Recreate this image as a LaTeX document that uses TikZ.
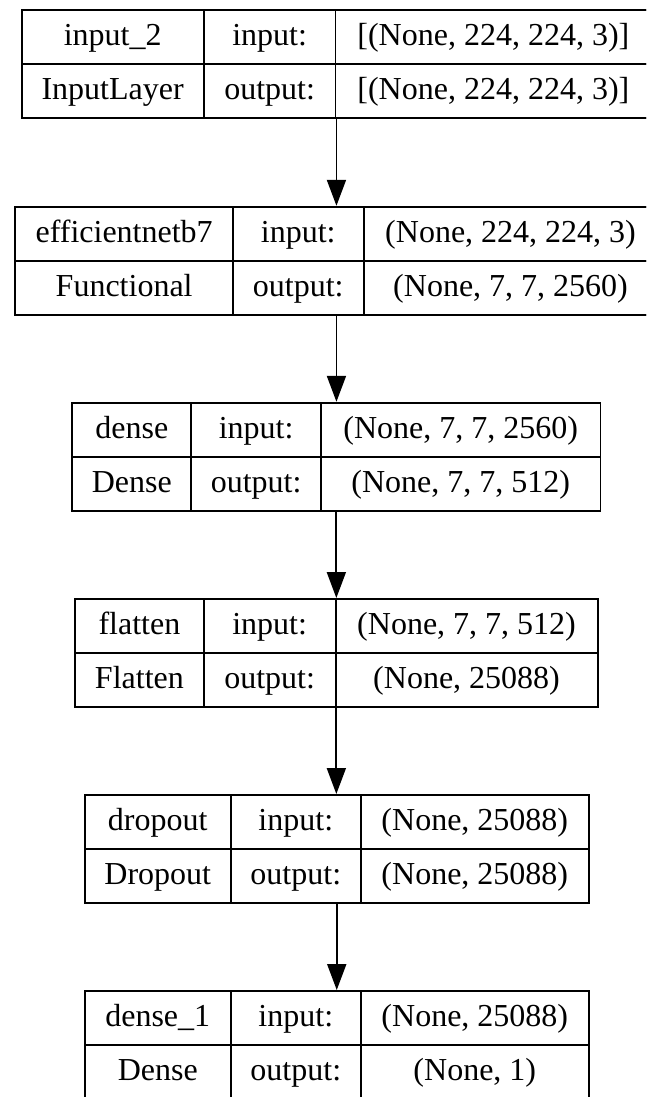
\documentclass[tikz,border=0pt]{standalone}
\usepackage{fontspec}
\setmainfont{Liberation Serif}
\usetikzlibrary{arrows.meta}
\newcommand{\cellfont}{\fontsize{32}{38}\selectfont}
\tikzset{
  cell/.style={draw, line width=1.9pt, inner sep=0pt, minimum height=54pt,
               text height=21.5pt, text depth=4pt,
               anchor=north west, font=\cellfont},
  layer/.style={draw, line width=1.9pt, inner sep=0pt, minimum height=108pt,
                anchor=north west},
  flow/.style={line width=1.9pt, -{Triangle[length=26pt,width=19pt]}}
}
\begin{document}
\begin{tikzpicture}[x=1pt,y=-1pt]
\clip (0,0) rectangle (646,1097);
\fill[white] (0,0) rectangle (646,1097);

% input_2 : InputLayer
\node[layer, minimum width=629.8pt] (L1) at (20.6,9.3) {};
\node[cell, minimum width=182.2pt] (L1n) at (20.6,9.3) {input\_2};
\node[cell, minimum width=182.2pt] (L1t) at (20.6,63.3) {InputLayer};
\node[cell, minimum width=131.7pt] (L1i) at (202.8,9.3) {input:};
\node[cell, minimum width=131.7pt] (L1o) at (202.8,63.3) {output:};
\node[cell, minimum width=315.9pt] (L1a) at (334.5,9.3) {[(None, 224, 224, 3)]};
\node[cell, minimum width=315.9pt] (L1b) at (334.5,63.3) {[(None, 224, 224, 3)]};

% efficientnetb7 : Functional
\node[layer, minimum width=642.2pt] (L2) at (14.4,205.8) {};
\node[cell, minimum width=217.6pt] (L2n) at (14.4,205.8) {efficientnetb7};
\node[cell, minimum width=217.6pt] (L2t) at (14.4,259.8) {Functional};
\node[cell, minimum width=130.6pt] (L2i) at (232,205.8) {input:};
\node[cell, minimum width=130.6pt] (L2o) at (232,259.8) {output:};
\node[cell, minimum width=294pt] (L2a) at (362.6,205.8) {(None, 224, 224, 3)};
\node[cell, minimum width=294pt] (L2b) at (362.6,259.8) {(None, 7, 7, 2560)};

% dense : Dense
\node[layer, minimum width=528.2pt] (L3) at (71.3,401.8) {};
\node[cell, minimum width=119.1pt] (L3n) at (71.3,401.8) {dense};
\node[cell, minimum width=119.1pt] (L3t) at (71.3,455.8) {Dense};
\node[cell, minimum width=129.6pt] (L3i) at (190.4,401.8) {input:};
\node[cell, minimum width=129.6pt] (L3o) at (190.4,455.8) {output:};
\node[cell, minimum width=279.5pt] (L3a) at (320,401.8) {(None, 7, 7, 2560)};
\node[cell, minimum width=279.5pt] (L3b) at (320,455.8) {(None, 7, 7, 512)};

% flatten : Flatten
\node[layer, minimum width=522.4pt] (L4) at (74.2,598) {};
\node[cell, minimum width=128.5pt] (L4n) at (74.2,598) {flatten};
\node[cell, minimum width=128.5pt] (L4t) at (74.2,652) {Flatten};
\node[cell, minimum width=131.9pt] (L4i) at (202.7,598) {input:};
\node[cell, minimum width=131.9pt] (L4o) at (202.7,652) {output:};
\node[cell, minimum width=262pt] (L4a) at (334.6,598) {(None, 7, 7, 512)};
\node[cell, minimum width=262pt] (L4b) at (334.6,652) {(None, 25088)};

% dropout : Dropout
\node[layer, minimum width=504.4pt] (L5) at (83.6,794) {};
\node[cell, minimum width=146.4pt] (L5n) at (83.6,794) {dropout};
\node[cell, minimum width=146.4pt] (L5t) at (83.6,848) {Dropout};
\node[cell, minimum width=129.7pt] (L5i) at (230,794) {input:};
\node[cell, minimum width=129.7pt] (L5o) at (230,848) {output:};
\node[cell, minimum width=228.3pt] (L5a) at (359.7,794) {(None, 25088)};
\node[cell, minimum width=228.3pt] (L5b) at (359.7,848) {(None, 25088)};

% dense_1 : Dense
\node[layer, minimum width=504.4pt] (L6) at (83.6,990) {};
\node[cell, minimum width=146.4pt] (L6n) at (83.6,990) {dense\_1};
\node[cell, minimum width=146.4pt] (L6t) at (83.6,1044) {Dense};
\node[cell, minimum width=129.7pt] (L6i) at (230,990) {input:};
\node[cell, minimum width=129.7pt] (L6o) at (230,1044) {output:};
\node[cell, minimum width=228.3pt] (L6a) at (359.7,990) {(None, 25088)};
\node[cell, minimum width=228.3pt] (L6b) at (359.7,1044) {(None, 1)};

% data flow between layers
\draw[flow] (L1.south) -- (L1.south |- L2.north);
\draw[flow] (L2.south) -- (L2.south |- L3.north);
\draw[flow] (L3.south) -- (L3.south |- L4.north);
\draw[flow] (L4.south) -- (L4.south |- L5.north);
\draw[flow] (L5.south) -- (L5.south |- L6.north);
\end{tikzpicture}
\end{document}
